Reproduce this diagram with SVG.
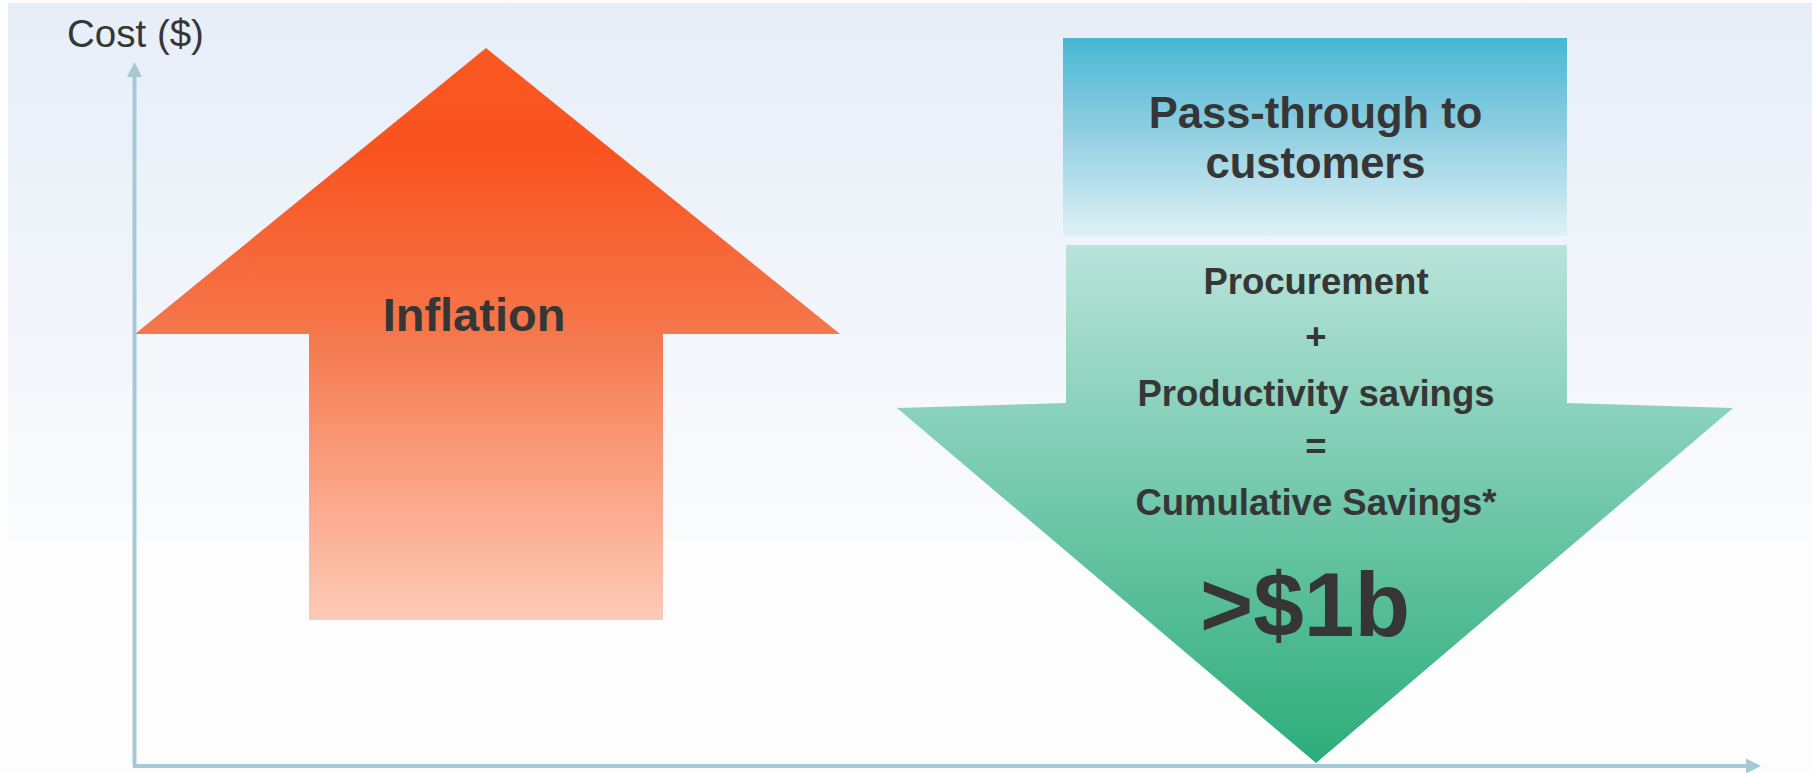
<svg xmlns="http://www.w3.org/2000/svg" width="1812" height="773" viewBox="0 0 1812 773">
  <defs>
    <linearGradient id="bgGrad" x1="0" y1="3" x2="0" y2="540" gradientUnits="userSpaceOnUse">
      <stop offset="0" stop-color="#e7eef8"/>
      <stop offset="1" stop-color="#fafbfd"/>
    </linearGradient>
    <linearGradient id="upGrad" x1="0" y1="48" x2="0" y2="620" gradientUnits="userSpaceOnUse">
      <stop offset="0" stop-color="#fa5822"/>
      <stop offset="0.18" stop-color="#f9531f"/>
      <stop offset="0.5" stop-color="#f5774c"/>
      <stop offset="0.8" stop-color="#fba98d"/>
      <stop offset="1" stop-color="#fdcab8"/>
    </linearGradient>
    <linearGradient id="passGrad" x1="0" y1="38" x2="0" y2="236" gradientUnits="userSpaceOnUse">
      <stop offset="0" stop-color="#47b7d4"/>
      <stop offset="0.5" stop-color="#94d0e2"/>
      <stop offset="1" stop-color="#def1f6"/>
    </linearGradient>
    <linearGradient id="downGrad" x1="0" y1="245" x2="0" y2="763" gradientUnits="userSpaceOnUse">
      <stop offset="0" stop-color="#b9e3da"/>
      <stop offset="0.31" stop-color="#8bd2bc"/>
      <stop offset="1" stop-color="#2cad7b"/>
    </linearGradient>
    <marker id="axisHead" viewBox="0 0 15 15" refX="0" refY="7.5" markerWidth="15" markerHeight="15" markerUnits="userSpaceOnUse" orient="auto">
      <path d="M0,0 L15,7.5 L0,15 Z" fill="#a5c9d5"/>
    </marker>
    <style>
      .label { font-family: "Liberation Sans", Arial, sans-serif; fill: #363636; text-anchor: middle; }
      .bold { font-weight: bold; }
      .axis { stroke: #a5c9d5; stroke-width: 4; fill: none; }
    </style>
  </defs>

  <!-- page background -->
  <rect x="0" y="0" width="1812" height="773" fill="#fdfdfd"/>
  <rect x="8" y="3" width="1804" height="537" fill="url(#bgGrad)"/>

  <!-- axes -->
  <g id="connectors">
    <line class="axis" x1="134.5" y1="766" x2="134.5" y2="77" marker-end="url(#axisHead)"/>
    <line class="axis" x1="133" y1="766" x2="1746" y2="766" marker-end="url(#axisHead)"/>
  </g>

  <g id="axis-label">
    <text class="label" x="135.5" y="47" font-size="38.5">Cost ($)</text>
  </g>

  <!-- rising cost arrow -->
  <g id="inflation">
    <polygon points="486,48 840,334 663,334 663,620 309,620 309,334 135,334" fill="url(#upGrad)"/>
    <text class="label bold" x="474" y="331" font-size="47">Inflation</text>
  </g>

  <!-- pass-through block -->
  <g id="pass-through">
    <rect x="1063" y="38" width="504" height="198" fill="url(#passGrad)"/>
    <text class="label bold" x="1315.5" y="128" font-size="43.5">Pass-through to</text>
    <text class="label bold" x="1315.5" y="178" font-size="43.5">customers</text>
  </g>

  <!-- savings arrow -->
  <g id="savings">
    <polygon points="1066,245 1567,245 1567,403 1733,408 1316,763 897,408 1066,403" fill="url(#downGrad)"/>
    <text class="label bold" x="1316" y="294" font-size="36.5">Procurement</text>
    <text class="label bold" x="1316" y="349" font-size="36.5">+</text>
    <text class="label bold" x="1316" y="406" font-size="36.5">Productivity savings</text>
    <text class="label bold" x="1316" y="459" font-size="36.5">=</text>
    <text class="label bold" x="1316" y="515" font-size="36.5">Cumulative Savings*</text>
    <text class="label bold" x="1305" y="636" font-size="91">&gt;$1b</text>
  </g>
</svg>
